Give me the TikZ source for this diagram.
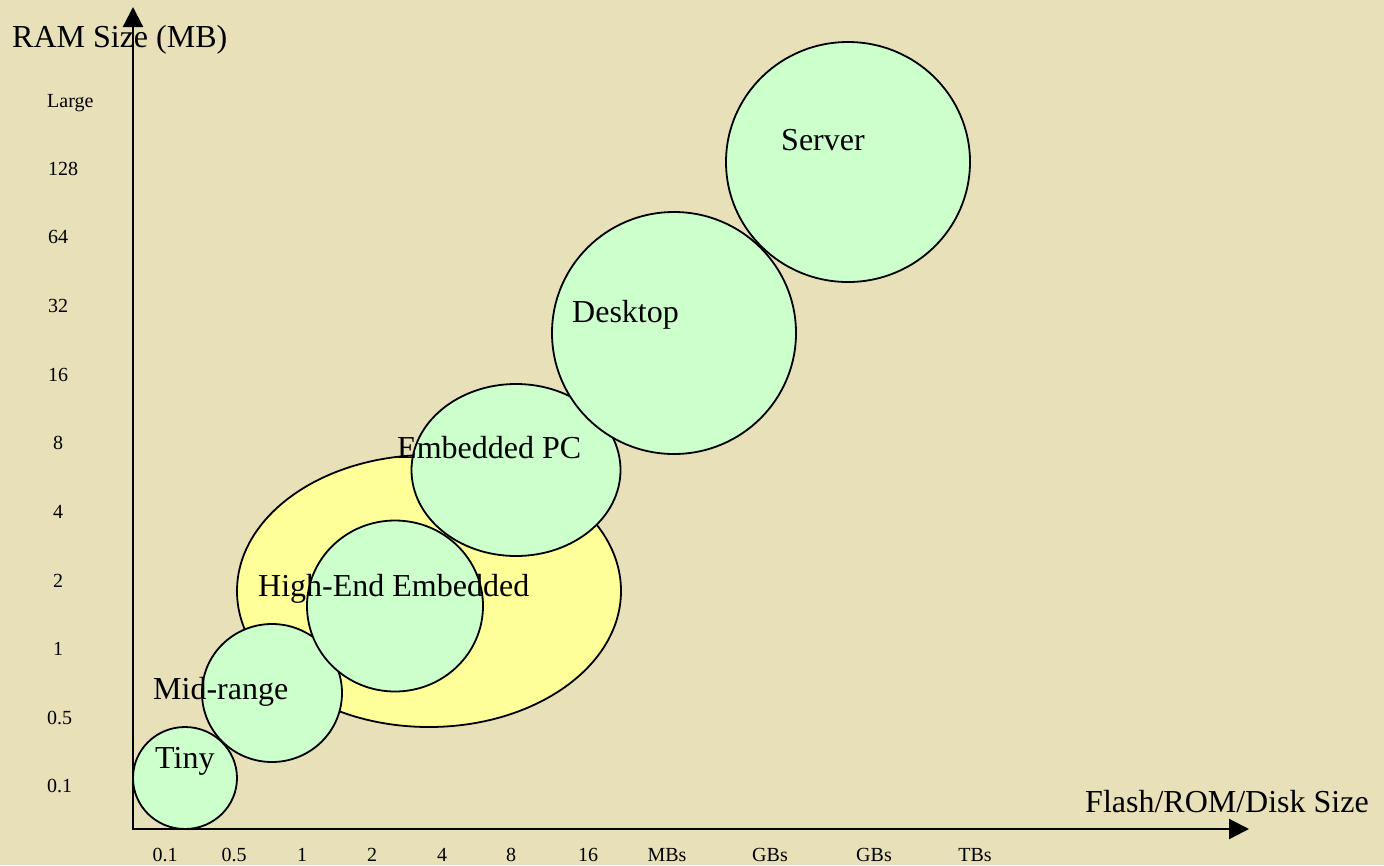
\documentclass[tikz,border=0pt]{standalone}
\usepackage{fontspec}
\setmainfont{Liberation Serif}
\usetikzlibrary{arrows.meta,shapes.geometric}
\definecolor{bg}{RGB}{232,224,184}
\definecolor{grn}{RGB}{204,255,204}
\definecolor{yel}{RGB}{255,255,153}
\begin{document}
\begin{tikzpicture}[x=1pt,y=-1pt,
  blob/.style={ellipse, draw=black, line width=1.8pt, fill=grn, inner sep=0pt, outer sep=0pt},
  big/.style={font=\fontsize{32}{38}\selectfont, anchor=base west, inner sep=0pt},
  ylab/.style={font=\fontsize{20}{24}\selectfont, anchor=base west, inner sep=0pt},
  xlab/.style={font=\fontsize{20}{24}\selectfont, anchor=base, inner sep=0pt},
  axisline/.style={line width=2.2pt, {Triangle[length=20pt,width=20pt]}-{Triangle[length=20pt,width=20pt]}}]
\fill[bg] (0,0) rectangle (1384,865);
\useasboundingbox (0,0) rectangle (1384,865);
% axes
\coordinate (o) at (133,829);
\coordinate (ytip) at (133,7);
\coordinate (xtip) at (1249,829);
\draw[axisline] (ytip) -- (o) -- (xtip);
% regions
\node[blob, fill=yel, minimum width=384pt, minimum height=272pt] (hee) at (429,591) {};
\node[blob, minimum width=104pt, minimum height=102pt] (tiny) at (185,778) {};
\node[blob, minimum width=140pt, minimum height=138pt] (mid) at (272,693) {};
\node[blob, minimum width=176pt, minimum height=171pt] (high) at (395,606) {};
\node[blob, minimum width=209pt, minimum height=172pt] (pc) at (516,470) {};
\node[blob, minimum width=244pt, minimum height=242pt] (desk) at (674,333) {};
\node[blob, minimum width=244pt, minimum height=240pt] (serv) at (848,162) {};
% region labels
\node[big] (tservt) at (781,150) {Server};
\node[big] (tdesk) at (572,322) {Desktop};
\node[big] (tpc) at (397,458) {Embedded PC};
\node[big] (thigh) at (258,596) {High-End Embedded};
\node[big] (tmid) at (153,699) {Mid-range};
\node[big] (ttiny) at (155,768) {Tiny};
% axis titles
\node[big] (ytitle) at (12,47) {RAM Size (MB)};
\node[big] (xtitle) at (1085,812) {Flash/ROM/Disk Size};
% y labels
\node[ylab] (yl1) at (47,107) {Large};
\node[ylab] (yl2) at (48,175) {128};
\node[ylab] (yl3) at (48,243) {64};
\node[ylab] (yl4) at (48,312) {32};
\node[ylab] (yl5) at (48,381) {16};
\node[ylab] (yl6) at (53,449) {8};
\node[ylab] (yl7) at (53,518) {4};
\node[ylab] (yl8) at (53,587) {2};
\node[ylab] (yl9) at (53,655) {1};
\node[ylab] (yl10) at (47,724) {0.5};
\node[ylab] (yl11) at (47,792) {0.1};
% x labels
\node[xlab] (xl1) at (165,861) {0.1};
\node[xlab] (xl2) at (234,861) {0.5};
\node[xlab] (xl3) at (302,861) {1};
\node[xlab] (xl4) at (372,861) {2};
\node[xlab] (xl5) at (442,861) {4};
\node[xlab] (xl6) at (511,861) {8};
\node[xlab] (xl7) at (588,861) {16};
\node[xlab] (xl8) at (667,861) {MBs};
\node[xlab] (xl9) at (770,861) {GBs};
\node[xlab] (xl10) at (874,861) {GBs};
\node[xlab] (xl11) at (975,861) {TBs};
\end{tikzpicture}
\end{document}
